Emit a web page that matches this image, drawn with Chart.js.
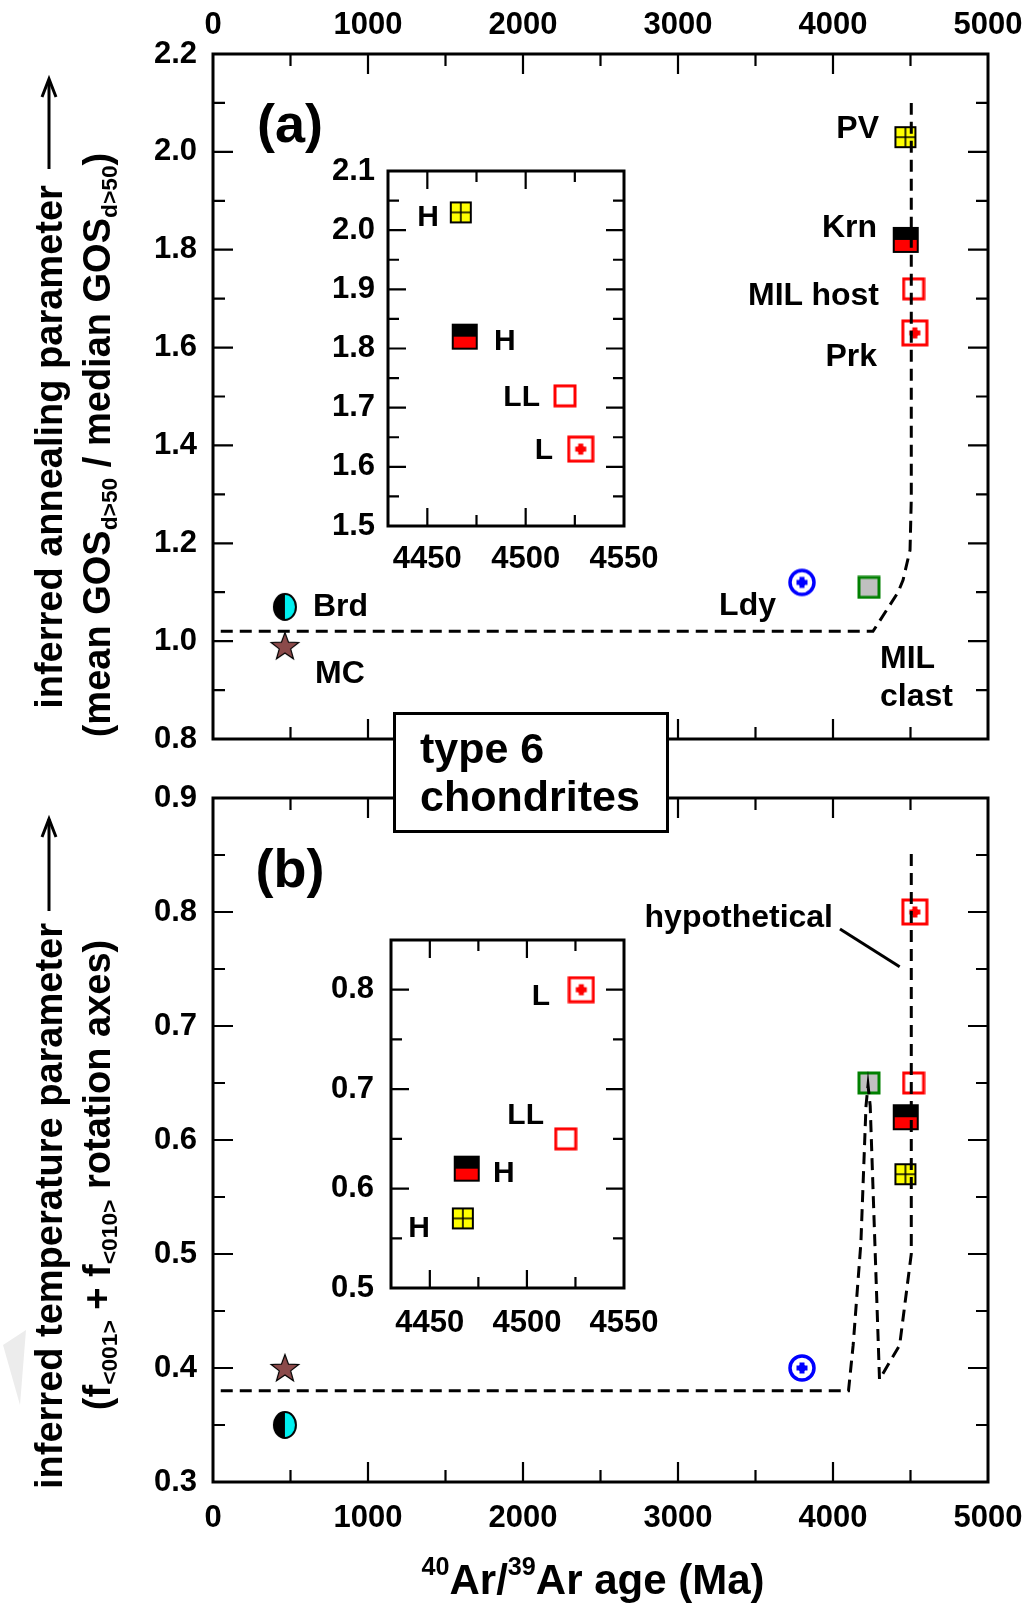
<!DOCTYPE html>
<html><head><meta charset="utf-8">
<script src="https://cdn.jsdelivr.net/npm/chart.js@4.4.1/dist/chart.umd.min.js"></script>
<style>
body{margin:0;background:#fff;}
#page{position:relative;width:1029px;height:1608px;overflow:hidden;background:#fff;font-family:'Liberation Sans',Arial,Helvetica,sans-serif;font-weight:bold;color:#000;}
canvas{position:absolute;}
.t{position:absolute;white-space:nowrap;line-height:1;transform:translateY(-50%);font-size:32px;}
.c{transform:translate(-50%,-50%);}
.ins{font-size:30px;}
.rot{position:absolute;white-space:nowrap;line-height:1;font-size:38px;transform:translate(-50%,-50%) rotate(-90deg);}
sub{font-size:60%;vertical-align:-0.3em;line-height:0}
sup{font-size:60%;vertical-align:0.75em;line-height:0}
#box{position:absolute;left:393px;top:712px;width:270px;height:115px;border:3px solid #000;background:#fff;}
#box div{position:absolute;left:24px;font-size:43px;line-height:1;transform:translateY(-50%);white-space:nowrap;}
</style></head>
<body><div id="page">
<canvas id="cA" width="1029" height="780" style="left:0;top:0"></canvas>
<canvas id="cB" width="1029" height="838" style="left:0;top:770px"></canvas>
<canvas id="iA" width="370" height="440" style="left:300px;top:150px"></canvas>
<canvas id="iB" width="370" height="440" style="left:300px;top:915px"></canvas>

<svg width="1029" height="1608" style="position:absolute;left:0;top:0;pointer-events:none">
  <line x1="49" y1="169" x2="49" y2="80" stroke="#000" stroke-width="3"/>
  <polyline points="42,97 49,79 56,97" fill="none" stroke="#000" stroke-width="3"/>
  <line x1="49" y1="911" x2="49" y2="819" stroke="#000" stroke-width="3"/>
  <polyline points="42,837 49,819 56,837" fill="none" stroke="#000" stroke-width="3"/>
  <polygon points="3,1345 26,1330 20,1405" fill="#ececec"/>
</svg>

<!-- panel (a) annotations -->
<div class="t c" style="left:290px;top:123px;font-size:54px">(a)</div>
<div class="t" style="right:150px;top:127px">PV</div>
<div class="t" style="right:152px;top:226px">Krn</div>
<div class="t" style="right:150px;top:294px">MIL host</div>
<div class="t" style="right:152px;top:355px">Prk</div>
<div class="t" style="right:253px;top:604px">Ldy</div>
<div class="t" style="left:313px;top:605px">Brd</div>
<div class="t" style="left:315px;top:672px">MC</div>
<div class="t" style="left:880px;top:657px">MIL</div>
<div class="t" style="left:880px;top:695px">clast</div>
<!-- inset (a) annotations -->
<div class="t ins" style="right:590px;top:216px">H</div>
<div class="t ins" style="left:494px;top:340px">H</div>
<div class="t ins" style="right:489px;top:396px">LL</div>
<div class="t ins" style="right:476px;top:449px">L</div>
<!-- panel (b) annotations -->
<div class="t c" style="left:290px;top:868px;font-size:54px">(b)</div>
<div class="t" style="right:196px;top:916px">hypothetical</div>
<!-- inset (b) annotations -->
<div class="t ins" style="right:479px;top:995px">L</div>
<div class="t ins" style="right:485px;top:1114px">LL</div>
<div class="t ins" style="left:493px;top:1172px">H</div>
<div class="t ins" style="right:599px;top:1227px">H</div>

<!-- axis titles -->
<div class="rot" style="left:49px;top:447px">inferred annealing parameter</div>
<div class="rot" style="left:97px;top:445px">(mean GOS<sub>d&gt;50</sub> / median GOS<sub>d&gt;50</sub>)</div>
<div class="rot" style="left:49px;top:1206px">inferred temperature parameter</div>
<div class="rot" style="left:97px;top:1175px">(f<sub>&lt;001&gt;</sub> + f<sub>&lt;010&gt;</sub> rotation axes)</div>
<div class="t c" style="left:593px;top:1580px;font-size:42px"><sup>40</sup>Ar/<sup>39</sup>Ar age (Ma)</div>

<div id="box"><div style="top:33px">type 6</div><div style="top:81px">chondrites</div></div>
</div>

<script>
// ---------------- data ----------------
const meteorites  = ['PV', 'Krn', 'MIL host', 'Prk', 'Ldy', 'MIL clast', 'Brd', 'MC'];
const ageMa       = [4467, 4469, 4520, 4528, 3800, 4232, 464, 464];
const annealing   = [2.03, 1.82, 1.72, 1.63, 1.12, 1.11, 1.07, 0.99];
const temperature = [0.57, 0.62, 0.65, 0.80, 0.40, 0.65, 0.35, 0.40];

// dashed "trend" curves
const trendA_age = [50, 4258, 4420, 4452, 4497, 4505, 4505];
const trendA_val = [1.02, 1.02, 1.10, 1.125, 1.186, 1.29, 2.10];
const trendB_age = [50, 4100, 4130, 4180, 4213, 4226, 4240, 4300, 4430, 4505, 4505];
const trendB_val = [0.38, 0.38, 0.42, 0.51, 0.63, 0.648, 0.63, 0.39, 0.42, 0.50, 0.853];
// "hypothetical" leader line
const leader_age = [4045, 4430];
const leader_val = [0.785, 0.752];

// tick labels
const ageTicks         = [0, 1000, 2000, 3000, 4000, 5000];
const annealTicks      = [0.8, 1.0, 1.2, 1.4, 1.6, 1.8, 2.0, 2.2];
const tempTicks        = [0.3, 0.4, 0.5, 0.6, 0.7, 0.8, 0.9];
const insetAgeTicks    = [4450, 4500, 4550];
const insetAnnealTicks = [1.5, 1.6, 1.7, 1.8, 1.9, 2.0, 2.1];
const insetTempTicks   = [0.5, 0.6, 0.7, 0.8];

// ---------------- marker glyphs ----------------
function mk(w, h, f) { const c = document.createElement('canvas'); c.width = w; c.height = h; f(c.getContext('2d'), w, h); return c; }
function plusShape(g, cx, cy, col) {
  g.fillStyle = col;
  g.fillRect(cx - 5.5, cy - 2.5, 11, 5);
  g.fillRect(cx - 2.5, cy - 5.5, 5, 11);
  g.beginPath(); g.arc(cx, cy, 3.6, 0, 2 * Math.PI); g.fill();
}
const glyphs = {
  grid: mk(24, 24, g => {
    g.fillStyle = '#ffff00'; g.fillRect(2, 2, 20, 20);
    g.strokeStyle = '#000'; g.lineWidth = 2; g.strokeRect(2, 2, 20, 20);
    g.lineWidth = 1.6; g.beginPath(); g.moveTo(12, 2); g.lineTo(12, 22); g.moveTo(2, 12); g.lineTo(22, 12); g.stroke();
  }),
  half: mk(28, 28, g => {
    g.fillStyle = '#000'; g.fillRect(2, 2, 24, 12);
    g.fillStyle = '#ff0000'; g.fillRect(2, 14, 24, 12);
    g.strokeStyle = '#000'; g.lineWidth = 2; g.strokeRect(2, 2, 24, 24);
  }),
  open: mk(24, 24, g => { g.strokeStyle = '#ff0000'; g.lineWidth = 3; g.strokeRect(2, 2, 20, 20); }),
  plus: mk(28, 28, g => { g.strokeStyle = '#ff0000'; g.lineWidth = 3; g.strokeRect(2, 2, 24, 24); plusShape(g, 14, 14, '#ff0000'); }),
  ring: mk(30, 30, g => {
    g.strokeStyle = '#0000ff'; g.lineWidth = 3.5; g.beginPath(); g.arc(15, 15, 12, 0, 2 * Math.PI); g.stroke();
    plusShape(g, 15, 15, '#0000ff');
  }),
  grey: mk(24, 24, g => { g.fillStyle = '#c0c0c0'; g.fillRect(2, 2, 20, 20); g.strokeStyle = '#008000'; g.lineWidth = 3; g.strokeRect(2, 2, 20, 20); }),
  semi: mk(26, 30, g => {
    g.fillStyle = '#000'; g.beginPath(); g.ellipse(13, 15, 11, 13, 0, Math.PI / 2, 3 * Math.PI / 2); g.closePath(); g.fill();
    g.fillStyle = '#00f0f0'; g.beginPath(); g.ellipse(13, 15, 11, 13, 0, -Math.PI / 2, Math.PI / 2); g.closePath(); g.fill();
    g.strokeStyle = '#000'; g.lineWidth = 2; g.beginPath(); g.ellipse(13, 15, 11, 13, 0, 0, 2 * Math.PI); g.stroke();
  }),
  star: mk(32, 32, g => {
    g.beginPath();
    for (let k = 0; k < 10; k++) {
      const a = -Math.PI / 2 + k * Math.PI / 5, r = k % 2 ? 6 : 14.5;
      const px = 16 + r * Math.cos(a), py = 17 + r * Math.sin(a);
      k ? g.lineTo(px, py) : g.moveTo(px, py);
    }
    g.closePath(); g.fillStyle = '#8b4a4a'; g.fill(); g.strokeStyle = '#000'; g.lineWidth = 1.2; g.stroke();
  })
};
const glyphOf = ['grid', 'half', 'open', 'plus', 'ring', 'grey', 'semi', 'star'];

// ---------------- helpers ----------------
Chart.defaults.font.family = "'Liberation Sans', Arial, Helvetica, sans-serif";
Chart.defaults.font.weight = 'bold';
Chart.defaults.color = '#000';

const frameTicks = {
  id: 'frameTicks',
  afterDraw(chart, args, o) {
    const { ctx, chartArea: a, scales: { x, y } } = chart;
    const mids = v => v.slice(1).map((w, i) => (w + v[i]) / 2);
    const xs = x.ticks.map(t => t.value), ys = y.ticks.map(t => t.value);
    ctx.save();
    ctx.strokeStyle = '#000'; ctx.lineWidth = o.tickWidth;
    ctx.beginPath();
    const xt = (vals, L) => vals.forEach(v => {
      const p = x.getPixelForValue(v); if (p <= a.left + 1 || p >= a.right - 1) return;
      ctx.moveTo(p, a.bottom); ctx.lineTo(p, a.bottom - L); ctx.moveTo(p, a.top); ctx.lineTo(p, a.top + L);
    });
    const yt = (vals, L) => vals.forEach(v => {
      const p = y.getPixelForValue(v); if (p <= a.top + 1 || p >= a.bottom - 1) return;
      ctx.moveTo(a.left, p); ctx.lineTo(a.left + L, p); ctx.moveTo(a.right, p); ctx.lineTo(a.right - L, p);
    });
    xt(xs, o.major); xt(mids(xs), o.minor); yt(ys, o.major); yt(mids(ys), o.minor);
    ctx.stroke();
    ctx.lineWidth = o.frameWidth;
    ctx.strokeRect(a.left, a.top, a.right - a.left, a.bottom - a.top);
    ctx.restore();
  }
};

function markerSets(values, n) {
  return meteorites.slice(0, n).map((name, i) => ({
    label: name, data: [{ x: ageMa[i], y: values[i] }],
    pointStyle: glyphs[glyphOf[i]], pointRadius: 12, showLine: false
  }));
}
function curve(xs, ys, dash) {
  return { data: xs.map((v, i) => ({ x: v, y: ys[i] })), showLine: true, borderColor: '#000',
    borderWidth: 3, borderDash: dash, pointRadius: 0, tension: 0, fill: false, borderCapStyle: 'butt' };
}
function makeChart(id, c) {
  return new Chart(document.getElementById(id), {
    type: 'scatter',
    data: { datasets: c.datasets },
    plugins: [frameTicks],
    options: {
      responsive: false, animation: false, events: [],
      layout: { padding: c.pad },
      plugins: { legend: { display: false }, tooltip: { enabled: false },
        frameTicks: { major: c.major, minor: c.minor, tickWidth: 2.2, frameWidth: 3 } },
      scales: {
        x: { type: 'linear', position: c.xPos, min: c.xMin, max: c.xMax,
          afterBuildTicks: s => { s.ticks = c.xTicks.map(v => ({ value: v })); },
          afterFit: s => { s.height = c.xH; s.paddingLeft = 0; s.paddingRight = 0; s.paddingTop = 0; s.paddingBottom = 0; },
          grid: { display: false, drawTicks: false }, border: { display: false },
          ticks: { autoSkip: false, maxRotation: 0, padding: c.xPad, font: { size: c.font, weight: 'bold' }, color: '#000', callback: v => String(v) } },
        y: { type: 'linear', min: c.yMin, max: c.yMax,
          afterBuildTicks: s => { s.ticks = c.yTicks.map(v => ({ value: v })); },
          afterFit: s => { s.width = c.yW; s.paddingLeft = 0; s.paddingRight = 0; s.paddingTop = 0; s.paddingBottom = 0; },
          grid: { display: false, drawTicks: false }, border: { display: false },
          ticks: { autoSkip: false, padding: c.yPad, font: { size: c.font, weight: 'bold' }, color: '#000', callback: v => Number(v).toFixed(1) } }
      }
    }
  });
}

// ---------------- panel (a) ----------------
makeChart('cA', {
  datasets: [curve(trendA_age, trendA_val, [12, 7])].concat(markerSets(annealing, 8)),
  xMin: 0, xMax: 5000, xTicks: ageTicks, yMin: 0.8, yMax: 2.2, yTicks: annealTicks,
  xPos: 'top', xH: 54, yW: 213, pad: { top: 0, right: 41, bottom: 41, left: 0 },
  xPad: 10, yPad: 16, font: 31, major: 20, minor: 12
});
// ---------------- panel (b) ----------------
makeChart('cB', {
  datasets: [curve(trendB_age, trendB_val, [12, 7]), curve(leader_age, leader_val, [])].concat(markerSets(temperature, 8)),
  xMin: 0, xMax: 5000, xTicks: ageTicks, yMin: 0.3, yMax: 0.9, yTicks: tempTicks,
  xPos: 'bottom', xH: 126, yW: 213, pad: { top: 28, right: 41, bottom: 0, left: 0 },
  xPad: 18, yPad: 16, font: 31, major: 20, minor: 12
});
// ---------------- inset (a) ----------------
makeChart('iA', {
  datasets: markerSets(annealing, 4),
  xMin: 4430, xMax: 4550, xTicks: insetAgeTicks, yMin: 1.5, yMax: 2.1, yTicks: insetAnnealTicks,
  xPos: 'bottom', xH: 64, yW: 88, pad: { top: 21, right: 46, bottom: 0, left: 0 },
  xPad: 15, yPad: 13, font: 31, major: 18, minor: 11
});
// ---------------- inset (b) ----------------
makeChart('iB', {
  datasets: markerSets(temperature, 4),
  xMin: 4430, xMax: 4550, xTicks: insetAgeTicks, yMin: 0.5, yMax: 0.85, yTicks: insetTempTicks,
  xPos: 'bottom', xH: 67, yW: 91, pad: { top: 25, right: 46, bottom: 0, left: 0 },
  xPad: 17, yPad: 17, font: 31, major: 18, minor: 11
});
</script>
</body></html>
